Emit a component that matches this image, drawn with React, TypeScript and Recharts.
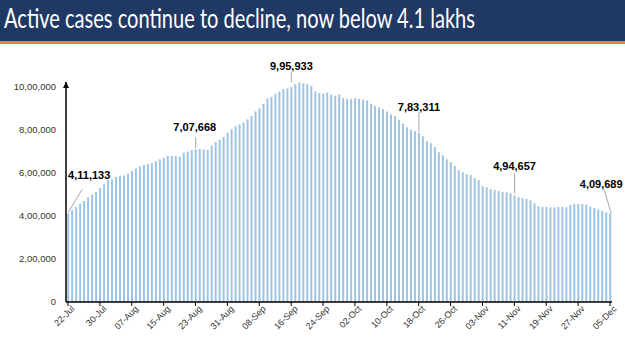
import React from 'react';
import { BarChart, Bar, XAxis, YAxis, LabelList } from 'recharts';

// daily labels, 22-Jul to 05-Dec
const dates = [
  '22-Jul', '23-Jul', '24-Jul', '25-Jul', '26-Jul', '27-Jul', '28-Jul', '29-Jul', '30-Jul', '31-Jul',
  '01-Aug', '02-Aug', '03-Aug', '04-Aug', '05-Aug', '06-Aug', '07-Aug', '08-Aug', '09-Aug', '10-Aug',
  '11-Aug', '12-Aug', '13-Aug', '14-Aug', '15-Aug', '16-Aug', '17-Aug', '18-Aug', '19-Aug', '20-Aug',
  '21-Aug', '22-Aug', '23-Aug', '24-Aug', '25-Aug', '26-Aug', '27-Aug', '28-Aug', '29-Aug', '30-Aug', '31-Aug',
  '01-Sep', '02-Sep', '03-Sep', '04-Sep', '05-Sep', '06-Sep', '07-Sep', '08-Sep', '09-Sep', '10-Sep',
  '11-Sep', '12-Sep', '13-Sep', '14-Sep', '15-Sep', '16-Sep', '17-Sep', '18-Sep', '19-Sep', '20-Sep',
  '21-Sep', '22-Sep', '23-Sep', '24-Sep', '25-Sep', '26-Sep', '27-Sep', '28-Sep', '29-Sep', '30-Sep',
  '01-Oct', '02-Oct', '03-Oct', '04-Oct', '05-Oct', '06-Oct', '07-Oct', '08-Oct', '09-Oct', '10-Oct',
  '11-Oct', '12-Oct', '13-Oct', '14-Oct', '15-Oct', '16-Oct', '17-Oct', '18-Oct', '19-Oct', '20-Oct',
  '21-Oct', '22-Oct', '23-Oct', '24-Oct', '25-Oct', '26-Oct', '27-Oct', '28-Oct', '29-Oct', '30-Oct', '31-Oct',
  '01-Nov', '02-Nov', '03-Nov', '04-Nov', '05-Nov', '06-Nov', '07-Nov', '08-Nov', '09-Nov', '10-Nov',
  '11-Nov', '12-Nov', '13-Nov', '14-Nov', '15-Nov', '16-Nov', '17-Nov', '18-Nov', '19-Nov', '20-Nov',
  '21-Nov', '22-Nov', '23-Nov', '24-Nov', '25-Nov', '26-Nov', '27-Nov', '28-Nov', '29-Nov', '30-Nov',
  '01-Dec', '02-Dec', '03-Dec', '04-Dec', '05-Dec',
];

// active cases, one per day in `dates`
const activeCases = [
  411133, 426167, 440135, 456071, 467882, 485114, 496988, 509447, 528242, 545318,
  565103, 567730, 579357, 585298, 586244, 595501, 607384, 619088, 628747, 634945,
  639929, 643948, 653622, 661595, 668220, 676900, 677444, 676514, 673166, 692028,
  697330, 704348, 707668, 710771, 707267, 704348, 725991, 742023, 752424, 765302, 785996,
  801282, 815538, 823000, 831124, 846395, 862320, 883697, 897394, 919018, 943480,
  951000, 965000, 975861, 986598, 990061, 995933, 1009976, 1017754, 1013964, 1010824,
  1001000, 975861, 968377, 966382, 970116, 960969, 956402, 962640, 944996, 940441,
  940705, 944996, 942217, 938000, 934427, 919023, 907883, 902425, 893592, 883185,
  870000, 861853, 845000, 826876, 810000, 800000, 792000, 783311, 768000, 745000,
  736000, 718000, 694000, 680000, 662000, 648000, 630000, 611000, 602000, 593000, 588000,
  574000, 565000, 537000, 532000, 523000, 519000, 514000, 510000, 508000, 503000,
  494657, 486000, 481000, 478000, 472000, 458000, 444000, 440000, 440500, 438000,
  438500, 440000, 441000, 439000, 450000, 454000, 454940, 453956, 452000, 443486,
  435603, 428644, 422943, 416082, 409689,
];

const yTicks = [0, 200000, 400000, 600000, 800000, 1000000];

const calloutDays = ['22-Jul', '23-Aug', '16-Sep', '18-Oct', '11-Nov', '05-Dec'];

const data = dates.map((date, i) => ({ date, active: activeCases[i] }));

// 1234567 -> 12,34,567
const formatIndian = (n: number) => {
  const s = String(Math.round(n));
  if (s.length <= 3) return s;
  const last3 = s.slice(-3);
  let rest = s.slice(0, -3);
  const parts: string[] = [];
  while (rest.length > 2) {
    parts.unshift(rest.slice(-2));
    rest = rest.slice(0, -2);
  }
  if (rest) parts.unshift(rest);
  return parts.join(',') + ',' + last3;
};

// where each callout text/leader sits, relative to the bar top
const calloutPos: Record<string, { tx: number; ty: number; l1: [number, number]; l2: [number, number] }> = {
  '22-Jul': { tx: 21, ty: -34, l1: [0, -1], l2: [14, -24] },
  '23-Aug': { tx: -1, ty: -18, l1: [0, -1], l2: [0, -12] },
  '16-Sep': { tx: 0, ty: -17, l1: [0, -5], l2: [0, -15] },
  '18-Oct': { tx: 0, ty: -22, l1: [0, -1], l2: [0, -21] },
  '11-Nov': { tx: 0, ty: -25, l1: [0, -2], l2: [0, -22] },
  '05-Dec': { tx: -9, ty: -26, l1: [1, 0], l2: [-6, -24] },
};

const Callout = (props: any) => {
  const { x, y, width, index } = props;
  const d = data[index];
  if (!d || !calloutDays.includes(d.date)) return null;
  const p = calloutPos[d.date];
  const cx = x + width / 2;
  return (
    <g>
      <line
        x1={cx + p.l1[0]}
        y1={y + p.l1[1]}
        x2={cx + p.l2[0]}
        y2={y + p.l2[1]}
        stroke="#a6a6a6"
        strokeWidth={1}
      />
      <text
        x={cx + p.tx}
        y={y + p.ty}
        textAnchor="middle"
        fontSize={11}
        fontWeight="bold"
        fontFamily="Liberation Sans, Arial, sans-serif"
        fill="#000"
      >
        {formatIndian(d.active)}
      </text>
    </g>
  );
};

const DateTick = (props: any) => {
  const { x, y, payload } = props;
  return (
    <g transform={`translate(${x},${y})`}>
      <text
        x={4}
        y={0}
        dy={6}
        textAnchor="end"
        transform="rotate(-45)"
        fontSize={9}
        fontFamily="Liberation Sans, Arial, sans-serif"
        fill="#333"
      >
        {payload.value}
      </text>
    </g>
  );
};

export default function App() {
  return (
    <div style={{ position: 'absolute', left: 0, top: 0, width: 625, height: 351, background: '#fff' }}>
      <div
        style={{
          position: 'absolute',
          left: 0,
          top: 0,
          width: 625,
          height: 41,
          background: '#203864',
          borderBottom: '3px solid #e07f58',
        }}
      />
      <svg width={625} height={40} style={{ position: 'absolute', left: 0, top: 0 }}>
        <text
          x={4}
          y={28}
          fontSize={26}
          fill="#fff"
          fontFamily="Lato, Open Sans, sans-serif"
          textLength={471}
          lengthAdjust="spacingAndGlyphs"
        >
          Active cases continue to decline, now below 4.1 lakhs
        </text>
      </svg>
      <div style={{ position: 'absolute', left: 0, top: 0 }}>
        <BarChart
          width={625}
          height={351}
          data={data}
          margin={{ top: 82, right: 13, left: 0, bottom: 0 }}
          barCategoryGap="30%"
        >
          <defs>
            <marker
              id="yArrow"
              viewBox="0 0 10 10"
              refX={10}
              refY={5}
              markerWidth={6}
              markerHeight={6}
              markerUnits="userSpaceOnUse"
              orient="auto-start-reverse"
            >
              <path d="M0,0 L10,5 L0,10 z" fill="#000" />
            </marker>
          </defs>
          <XAxis
            dataKey="date"
            interval={7}
            height={49}
            tick={<DateTick />}
            tickSize={4}
            tickLine={{ stroke: '#000' }}
            axisLine={{ stroke: '#000', strokeWidth: 1.5 }}
          />
          <YAxis
            width={66}
            domain={[0, 1020000]}
            ticks={yTicks}
            tickFormatter={formatIndian}
            tickLine={false}
            tickSize={0}
            tickMargin={10}
            tick={{ fontSize: 9.5, fill: '#333', fontFamily: 'Liberation Sans, Arial, sans-serif' }}
            axisLine={{ stroke: '#000', strokeWidth: 1.5, markerStart: 'url(#yArrow)' }}
          />
          <Bar dataKey="active" fill="#9dc3e6" isAnimationActive={false}>
            <LabelList dataKey="active" content={<Callout />} />
          </Bar>
        </BarChart>
      </div>
    </div>
  );
}
